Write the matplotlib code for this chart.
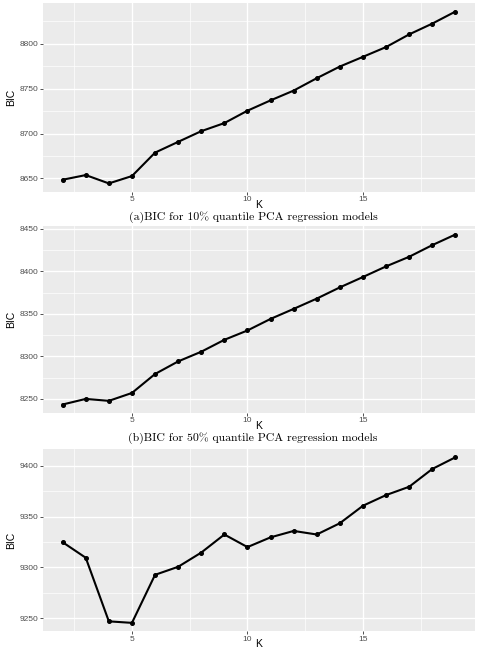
import matplotlib.pyplot as plt
import numpy as np
from matplotlib.ticker import MultipleLocator


K_VALUES = list(range(2, 20))

BIC_10 = [8648.5, 8653.7, 8644.4, 8652.6, 8678.7, 8690.7, 8702.6, 8711.6, 8725.4,
          8736.9, 8747.8, 8761.6, 8774.6, 8785.4, 8796.3, 8810.4, 8822.4, 8835.8]
BIC_50 = [8243.4, 8250.0, 8247.7, 8257.0, 8279.3, 8294.1, 8305.5, 8319.5, 8330.5,
          8344.1, 8355.9, 8368.0, 8381.2, 8393.4, 8405.9, 8417.2, 8430.9, 8443.4]
BIC_90 = [9324.7, 9309.4, 9246.8, 9245.3, 9292.6, 9300.5, 9314.5, 9332.3, 9319.9,
          9329.5, 9335.8, 9332.3, 9343.4, 9360.6, 9371.1, 9379.3, 9396.8, 9408.3]

CAPTIONS = [
    "(a)BIC for 10% quantile PCA regression models",
    "(b)BIC for 50% quantile PCA regression models",
]

PANEL_BOXES = [
    (0.0896, 0.7046, 0.90, 0.2908),
    (0.0896, 0.3646, 0.90, 0.2877),
    (0.0896, 0.0290, 0.90, 0.2802),
]
CAPTION_Y = [0.666, 0.326]
SANS = ["Liberation Sans", "DejaVu Sans"]


def _gg_axes(fig, box, k_values, bic_values):
    ax = fig.add_axes(box)
    ax.set_facecolor("#EBEBEB")
    for spine in ax.spines.values():
        spine.set_visible(False)

    ax.plot(k_values, bic_values, color="black", linewidth=1.5, marker="o",
            markersize=2.6, zorder=3)

    span = max(bic_values) - min(bic_values)
    ax.set_ylim(min(bic_values) - 0.05 * span, max(bic_values) + 0.05 * span)
    ax.set_xlim(min(k_values) - 0.85, max(k_values) + 0.85)

    ax.xaxis.set_major_locator(MultipleLocator(5))
    ax.xaxis.set_minor_locator(MultipleLocator(2.5))
    ax.yaxis.set_major_locator(MultipleLocator(50))
    ax.yaxis.set_minor_locator(MultipleLocator(25))

    ax.grid(which="major", color="white", linewidth=1.0)
    ax.grid(which="minor", color="white", linewidth=0.5)
    ax.set_axisbelow(True)

    ax.tick_params(which="major", length=2, width=0.6, color="#333333",
                   labelcolor="#4D4D4D", labelsize=6, pad=1.2)
    ax.tick_params(which="minor", length=0)
    for label in ax.get_xticklabels() + ax.get_yticklabels():
        label.set_family(SANS)

    ax.set_xlabel("K", fontsize=7.5, labelpad=-2.5, family=SANS)
    ax.set_ylabel("BIC", fontsize=7.5, labelpad=3, family=SANS)
    return ax


def main():
    fig = plt.figure(figsize=(4.8, 6.5), dpi=100)

    series = [BIC_10, BIC_50, BIC_90]
    for box, bic_values in zip(PANEL_BOXES, series):
        _gg_axes(fig, box, K_VALUES, bic_values)

    for caption, y in zip(CAPTIONS, CAPTION_Y):
        fig.text(0.527, y, caption, ha="center", va="center", fontsize=8.5,
                 family=["cmr10", "DejaVu Serif"])

    fig.savefig("out.png", dpi=100)


if __name__ == "__main__":
    main()
